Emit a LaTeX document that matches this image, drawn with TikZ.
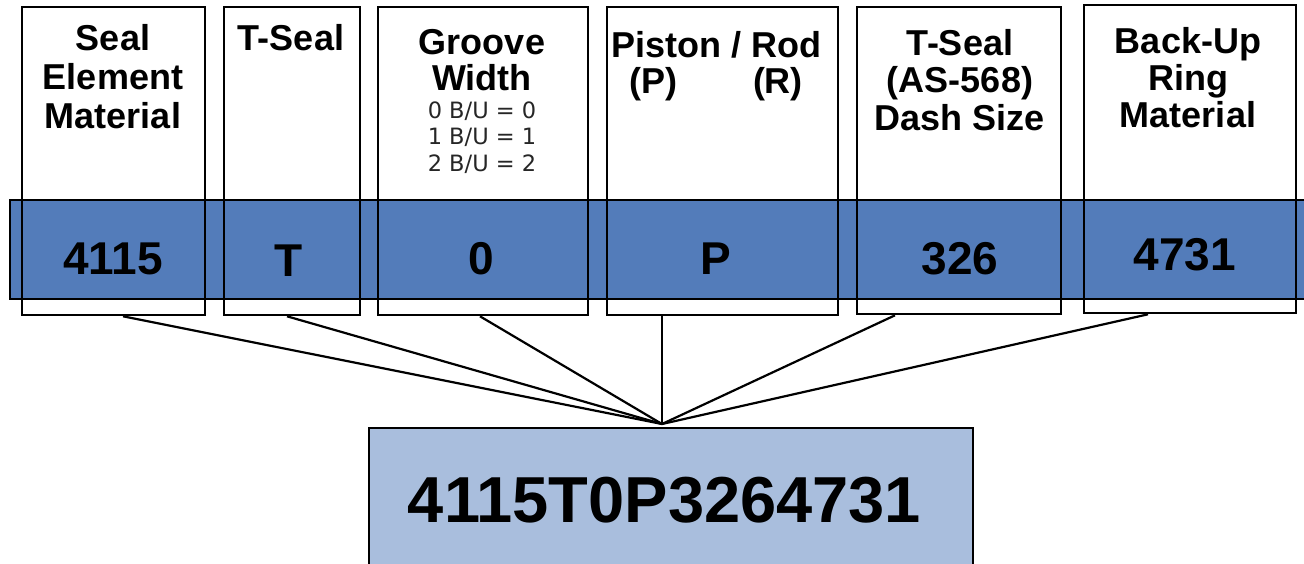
\documentclass[tikz,border=0pt]{standalone}
\usepackage{fontspec}
\setmainfont{Liberation Sans}
\newfontfamily\smallfont{DejaVu Sans}
\definecolor{bandblue}{RGB}{83,124,186}
\definecolor{codeblue}{RGB}{169,190,221}
\tikzset{
  colbox/.style={draw=black, line width=2.6pt, rectangle, inner sep=0pt, minimum height=308pt},
  head/.style={anchor=base, align=center, inner sep=0pt, font={\fontsize{36}{39}\selectfont\bfseries}},
  val/.style={anchor=base, inner sep=0pt, font={\fontsize{46}{50}\selectfont\bfseries}},
  wire/.style={draw=black, line width=2.2pt},
}
\begin{document}
\begin{tikzpicture}[x=1pt,y=-1pt]
\useasboundingbox (0,0) rectangle (1304,563);
\clip (0,0) rectangle (1304,563);
\fill[white] (0,0) rectangle (1304,563);
% band
\draw[fill=bandblue, line width=2.6pt] (10,200) rectangle (1315,299);
% column boxes
\node[colbox, minimum width=183pt] (b1) at (113.5,161) {};
\node[colbox, minimum width=136pt] (b2) at (292,161) {};
\node[colbox, minimum width=210pt] (b3) at (483,161) {};
\node[colbox, minimum width=231pt] (b4) at (722.5,161) {};
\node[colbox, minimum width=204pt, minimum height=307pt] (b5) at (959,160.5) {};
\node[colbox, minimum width=212pt] (b6) at (1190,159) {};
% headers (anchor base = baseline of last line)
\node[head] (h1) at (113,128) {Seal\\Element\\Material};
\node[head] (h2) at (291,50) {T-Seal};
\node[head, font={\fontsize{36}{36}\selectfont\bfseries}] (h3) at (482,90) {Groove\\Width};
\node[anchor=base, align=center, inner sep=0pt, text=black!85, font={\fontsize{22.5}{26.5}\smallfont}] (h3b) at (482,171) {0 B/U = 0\\1 B/U = 1\\2 B/U = 2};
\node[head, font={\fontsize{36}{36}\selectfont\bfseries}] (h4) at (716,93) {Piston / Rod\\(P)\hspace{76pt}(R)};
\node[head, font={\fontsize{36}{37.5}\selectfont\bfseries}] (h5) at (960,130) {T-Seal\\(AS-568)\\Dash Size};
\node[head, font={\fontsize{36}{37}\selectfont\bfseries}] (h6) at (1188,127) {Back-Up\\Ring\\Material};
% values
\node[val] (v1) at (113,274) {4115};
\node[val] (v2) at (289,276) {T};
\node[val] (v3) at (481,274) {0};
\node[val] (v4) at (716,274) {P};
\node[val] (v5) at (960,274) {326};
\node[val] (v6) at (1185,270) {4731};
% code box
\node[draw=black, line width=2.6pt, fill=codeblue, rectangle, inner sep=0pt, minimum width=604pt, minimum height=200pt] (code) at (671,528) {};
\node[anchor=base, inner sep=0pt, font={\fontsize{65}{70}\selectfont\bfseries}] (codetext) at (664.5,522) {4115T0P3264731};
% connectors
\coordinate (hub) at (662,424);
\draw[wire] ([xshift=9.5pt]b1.south) -- (hub);
\draw[wire] ([xshift=-5pt]b2.south) -- (hub);
\draw[wire] ([xshift=-3pt]b3.south) -- (hub);
\draw[wire] ([xshift=-60.5pt]b4.south) -- (hub);
\draw[wire] ([xshift=-64pt]b5.south) -- (hub);
\draw[wire] ([xshift=-42pt]b6.south) -- (hub);
\end{tikzpicture}
\end{document}
